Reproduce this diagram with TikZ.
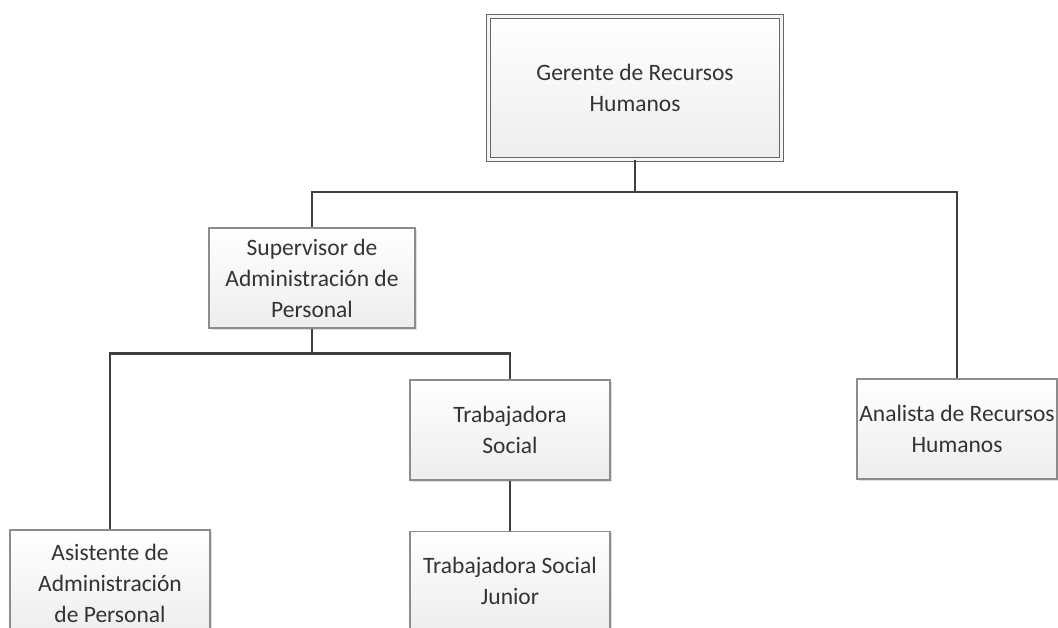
\documentclass[tikz,border=0pt]{standalone}
\usepackage{fontspec}
\setmainfont{Carlito}
\usetikzlibrary{positioning, shadows}
\definecolor{boxline}{HTML}{8C8C8C}
\definecolor{txtgray}{HTML}{333333}
\definecolor{wire}{HTML}{3F3F3F}

\tikzset{
  puesto/.style={draw=boxline, line width=1.2pt, rectangle, top color=white, bottom color=gray!14,
    minimum width=200pt, minimum height=100pt, inner sep=1pt, align=center, text=txtgray,
    font=\fontsize{23.5}{31}\selectfont,
    drop shadow={opacity=0.25, shadow xshift=2pt, shadow yshift=-2pt}},
  jefe/.style={puesto, draw=gray!80!black, double=gray!8, double distance=3pt, line width=1pt,
    minimum width=293pt, minimum height=143pt},
  linea/.style={draw=wire, line width=2.5pt}
}

\begin{document}
\begin{tikzpicture}[x=1pt, y=-1pt]
\useasboundingbox (0,0) rectangle (1058,628);
\node[jefe] (gerente) at (635,88) {Gerente de Recursos\\Humanos};
\node[puesto, minimum width=206pt] (supervisor) at (312,278) {Supervisor de\\Administración de\\Personal};
\node[puesto] (analista) at (957,429) {Analista de Recursos\\Humanos};
\node[puesto] (social) at (510,430) {Trabajadora\\Social};
\node[puesto, below=50pt of social] (junior) {Trabajadora Social\\Junior};
\node[puesto, minimum height=106pt] (asistente) at (110,583) {Asistente de\\Administración\\de Personal};

\draw[linea] (gerente.south) -- ++(0,32) -| (supervisor.north);
\draw[linea] (gerente.south) -- ++(0,32) -| (analista.north);
\draw[linea] (supervisor.south) -- ++(0,25) -| (asistente.north);
\draw[linea] (supervisor.south) -- ++(0,25) -| (social.north);
\draw[linea] (social) -- (junior);
\end{tikzpicture}
\end{document}
